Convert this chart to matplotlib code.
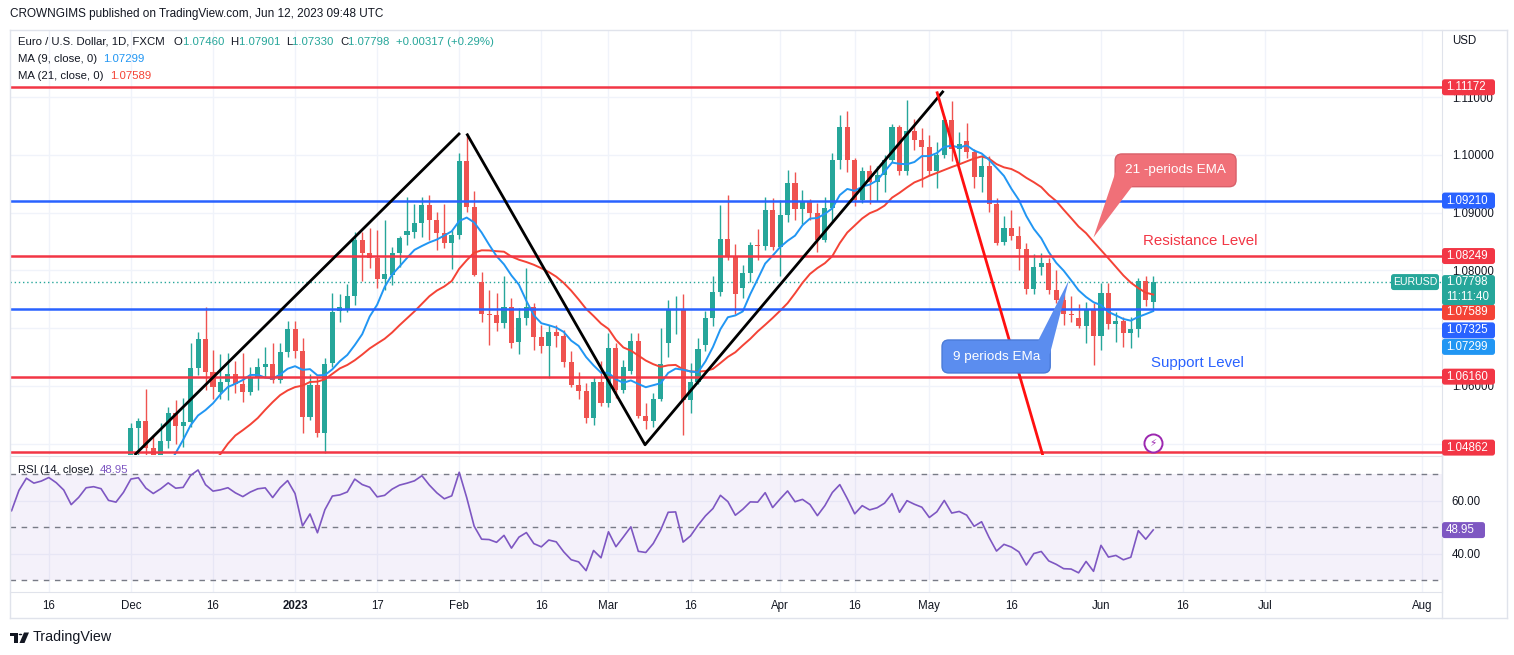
import numpy as np
import pandas as pd
import matplotlib
matplotlib.use("Agg")
import matplotlib.pyplot as plt
from matplotlib.patches import FancyBboxPatch, Polygon, Rectangle, Circle
from matplotlib.lines import Line2D

plt.rcParams['font.family'] = ['Liberation Sans', 'DejaVu Sans']

# closes Oct 3 - Nov 30 2022 (below the visible range, they only feed the MAs / RSI)
early_close = [0.9825, 0.9987, 0.9885, 0.9792, 0.9742, 0.9703, 0.9706, 0.9702, 0.9780, 0.9721,
               0.9839, 0.9855, 0.9774, 0.9780, 0.9862, 0.9877, 0.9965, 1.0078, 0.9965, 0.9965,
               0.9882, 0.9875, 0.9818, 0.9750, 0.9960, 1.0020, 1.0074, 1.0013, 1.0207, 1.0355,
               1.0325, 1.0350, 1.0392, 1.0364, 1.0325, 1.0242, 1.0305, 1.0397, 1.0408, 1.0398,
               1.0339, 1.0330, 1.0405]

# daily EURUSD, Dec 1 2022 - Jun 12 2023 (one row per month)
opens = [
    1.0405, 1.0527, 1.0540, 1.0493, 1.0468, 1.0505, 1.0553, 1.0531, 1.0537, 1.0631, 1.0681,
    1.0624, 1.0590, 1.0607, 1.0621, 1.0603, 1.0590, 1.0614, 1.0633, 1.0638, 1.0610, 1.0659,
    1.0698, 1.0661, 1.0546, 1.0601, 1.0518, 1.0640, 1.0729, 1.0734, 1.0756, 1.0852, 1.0831,
    1.0821, 1.0785, 1.0792, 1.0831, 1.0862, 1.0867, 1.0882, 1.0913, 1.0888, 1.0865, 1.0848,
    1.0861, 1.0990, 1.0910, 1.0780, 1.0725, 1.0723, 1.0709, 1.0737, 1.0676, 1.0718, 1.0737,
    1.0685, 1.0669, 1.0694, 1.0686, 1.0641, 1.0602, 1.0591, 1.0545, 1.0607,
    1.0571, 1.0666, 1.0593, 1.0626, 1.0677, 1.0547, 1.0540, 1.0577, 1.0675, 1.0731, 1.0733,
    1.0575, 1.0607, 1.0670, 1.0718, 1.0763, 1.0854, 1.0825, 1.0770, 1.0796, 1.0844, 1.0843, 1.0905,
    1.0841, 1.0896, 1.0952, 1.0906, 1.0921, 1.0900, 1.0853, 1.0908, 1.0991, 1.1048, 1.0991,
    1.0922, 1.0972, 1.0953, 1.0965, 1.0991, 1.1048, 1.0972, 1.1041, 1.1026,
    1.1014, 1.0972, 1.1000, 1.1061, 1.1011, 1.1025, 1.1005, 1.0961, 1.0980, 1.0915, 1.0850,
    1.0873, 1.0860, 1.0837, 1.0768, 1.0806, 1.0813, 1.0766, 1.0748, 1.0725, 1.0718, 1.0704, 1.0733,
    1.0686, 1.0761, 1.0707, 1.0712, 1.0692, 1.0699, 1.0781, 1.07460]
highs = [
    1.0535, 1.0545, 1.0594, 1.0515, 1.0535, 1.0563, 1.0575, 1.0579, 1.0674, 1.0694, 1.0737,
    1.0662, 1.0655, 1.0657, 1.0643, 1.0657, 1.0633, 1.0648, 1.0667, 1.0674, 1.0674, 1.0712,
    1.0712, 1.0683, 1.0620, 1.0615, 1.0648, 1.0761, 1.0759, 1.0776, 1.0867, 1.0866, 1.0874,
    1.0870, 1.0887, 1.0841, 1.0860, 1.0927, 1.0915, 1.0927, 1.0931, 1.0901, 1.0915, 1.0870,
    1.1003, 1.1033, 1.0938, 1.0798, 1.0766, 1.0761, 1.0790, 1.0752, 1.0735, 1.0804, 1.0744,
    1.0705, 1.0705, 1.0705, 1.0697, 1.0660, 1.0624, 1.0605, 1.0616, 1.0643,
    1.0692, 1.0675, 1.0645, 1.0692, 1.0692, 1.0570, 1.0588, 1.0701, 1.0749, 1.0755, 1.0759,
    1.0640, 1.0683, 1.0730, 1.0790, 1.0913, 1.0931, 1.0845, 1.0809, 1.0850, 1.0872, 1.0928, 1.0926,
    1.0922, 1.0974, 1.0971, 1.0940, 1.0924, 1.0917, 1.0928, 1.1003, 1.1070, 1.1076, 1.0995,
    1.0979, 1.0982, 1.0980, 1.1000, 1.1054, 1.1052, 1.1095, 1.1062, 1.1047,
    1.1034, 1.1022, 1.1068, 1.1094, 1.1040, 1.1055, 1.1010, 1.1000, 1.0998, 1.0925, 1.0895,
    1.0904, 1.0877, 1.0847, 1.0829, 1.0831, 1.0822, 1.0800, 1.0760, 1.0756, 1.0742, 1.0746, 1.0743,
    1.0779, 1.0779, 1.0728, 1.0719, 1.0719, 1.0787, 1.0790, 1.07901]
lows = [
    1.0395, 1.0465, 1.0478, 1.0443, 1.0444, 1.0493, 1.0500, 1.0495, 1.0528, 1.0619, 1.0593,
    1.0578, 1.0578, 1.0576, 1.0588, 1.0572, 1.0585, 1.0593, 1.0615, 1.0605, 1.0605, 1.0650,
    1.0648, 1.0519, 1.0541, 1.0511, 1.0483, 1.0633, 1.0711, 1.0728, 1.0740, 1.0781, 1.0804,
    1.0770, 1.0766, 1.0775, 1.0806, 1.0844, 1.0856, 1.0858, 1.0853, 1.0836, 1.0838, 1.0802,
    1.0855, 1.0902, 1.0790, 1.0711, 1.0671, 1.0695, 1.0700, 1.0666, 1.0656, 1.0706, 1.0662,
    1.0657, 1.0614, 1.0667, 1.0632, 1.0598, 1.0577, 1.0536, 1.0532, 1.0565,
    1.0564, 1.0579, 1.0588, 1.0620, 1.0545, 1.0525, 1.0528, 1.0573, 1.0650, 1.0690, 1.0515,
    1.0553, 1.0603, 1.0660, 1.0703, 1.0755, 1.0818, 1.0725, 1.0752, 1.0780, 1.0818, 1.0835, 1.0836,
    1.0790, 1.0883, 1.0887, 1.0880, 1.0887, 1.0832, 1.0850, 1.0885, 1.0976, 1.0970, 1.0912,
    1.0917, 1.0915, 1.0920, 1.0936, 1.0988, 1.0965, 1.0965, 1.1009, 1.0945,
    1.0965, 1.0943, 1.0995, 1.0990, 1.0985, 1.0995, 1.0943, 1.0935, 1.0902, 1.0844, 1.0844,
    1.0852, 1.0800, 1.0760, 1.0760, 1.0792, 1.0759, 1.0744, 1.0705, 1.0710, 1.0700, 1.0674, 1.0636,
    1.0663, 1.0698, 1.0676, 1.0667, 1.0666, 1.0685, 1.0738, 1.07330]
closes = [
    1.0527, 1.0540, 1.0493, 1.0468, 1.0505, 1.0553, 1.0531, 1.0537, 1.0631, 1.0681, 1.0624,
    1.0598, 1.0607, 1.0621, 1.0603, 1.0590, 1.0615, 1.0633, 1.0638, 1.0610, 1.0659, 1.0698,
    1.0661, 1.0546, 1.0601, 1.0518, 1.0638, 1.0728, 1.0736, 1.0756, 1.0852, 1.0831, 1.0821,
    1.0785, 1.0794, 1.0831, 1.0856, 1.0868, 1.0882, 1.0913, 1.0887, 1.0865, 1.0848, 1.0861,
    1.0990, 1.0910, 1.0792, 1.0725, 1.0723, 1.0709, 1.0737, 1.0674, 1.0718, 1.0737, 1.0685,
    1.0669, 1.0694, 1.0686, 1.0641, 1.0602, 1.0591, 1.0545, 1.0607, 1.0571,
    1.0666, 1.0593, 1.0633, 1.0677, 1.0547, 1.0540, 1.0577, 1.0638, 1.0731, 1.0733, 1.0575,
    1.0607, 1.0664, 1.0718, 1.0763, 1.0854, 1.0825, 1.0759, 1.0796, 1.0844, 1.0843, 1.0905, 1.0841,
    1.0896, 1.0952, 1.0906, 1.0921, 1.0900, 1.0853, 1.0908, 1.0991, 1.1048, 1.0991, 1.0922,
    1.0972, 1.0953, 1.0965, 1.0991, 1.1048, 1.0972, 1.1041, 1.1026, 1.1014,
    1.0972, 1.1000, 1.1061, 1.1011, 1.1019, 1.1005, 1.0961, 1.0980, 1.0915, 1.0848, 1.0873,
    1.0860, 1.0837, 1.0768, 1.0806, 1.0813, 1.0766, 1.0748, 1.0725, 1.0723, 1.0704, 1.0733, 1.0686,
    1.0761, 1.0707, 1.0712, 1.0692, 1.0699, 1.0781, 1.0748, 1.07798]

# horizontal levels drawn on the chart
red_levels = [1.11172, 1.08249, 1.06160, 1.04862]
blue_levels = [1.09210, 1.07325]
ma9_last, ma21_last, rsi_last = 1.07299, 1.07589, 48.95
change, change_pct = 0.00317, 0.29
price_ticks = [1.06, 1.08, 1.09, 1.10, 1.11]

tick_dates = ['2022-11-16', '2022-12-01', '2022-12-16', '2023-01-02', '2023-01-17', '2023-02-01',
              '2023-02-16', '2023-03-01', '2023-03-16', '2023-04-03', '2023-04-17', '2023-05-01',
              '2023-05-16', '2023-06-01', '2023-06-16', '2023-07-03', '2023-08-01']
tick_labels = ['16', 'Dec', '16', '2023', '17', 'Feb', '16', 'Mar', '16', 'Apr', '16', 'May',
               '16', 'Jun', '16', 'Jul', 'Aug']

# drawings (bar offset from Dec 1, price)
zig1 = [(0.5, 1.04803), (44.1, 1.1038)]
zig2 = [(45.0, 1.1037), (68.9, 1.0498), (108.9, 1.1111)]
red_trend = [(108.0, 1.1110), (122.2, 1.0480)]

GREEN, RED = '#26a69a', '#ef5350'
TEXT = '#131722'
GRID = '#f0f3fa'
BORDER = '#e0e3eb'
LRED, LBLUE = '#f23645', '#2962ff'

W, H = 1514, 655
fig = plt.figure(figsize=(W / 100, H / 100), dpi=100)
fig.patch.set_facecolor('white')


def fx(px):
    return px / W


def fy(py):
    return 1 - py / H


PTOP, PBOT = 1.12164, 1.04803
RTOP, RBOT = 76.9, 25.6
ax = fig.add_axes([fx(10), fy(455), fx(1442) - fx(10), fy(30) - fy(455)])
axr = fig.add_axes([fx(10), fy(592), fx(1442) - fx(10), fy(456) - fy(592)])

dates = pd.bdate_range('2022-10-03', '2023-08-31')
n_early = len(early_close)
all_close = np.array(early_close + closes)
xs_all = np.arange(len(all_close)) - n_early
xs = np.arange(len(closes))

# moving averages and RSI from the closes
s = pd.Series(all_close)
ma9 = s.rolling(9).mean().values
ma21 = s.rolling(21).mean().values


def rma(v, n):
    out = np.full(len(v), np.nan)
    out[n - 1] = v[:n].mean()
    for i in range(n, len(v)):
        out[i] = (out[i - 1] * (n - 1) + v[i]) / n
    return out


delta = np.diff(all_close)
ag = rma(np.clip(delta, 0, None), 14)
al = rma(np.clip(-delta, 0, None), 14)
rsi = np.concatenate([[np.nan], 100 - 100 / (1 + ag / al)])

tick_pos = [dates.searchsorted(pd.Timestamp(d)) - n_early for d in tick_dates]

# ---- price pane
for a in (ax, axr):
    a.set_xlim(-16.2, 175.7)
    for p in tick_pos:
        a.axvline(p, color=GRID, lw=1, zorder=0)
ax.set_ylim(PBOT, PTOP)
for v in np.arange(1.05, 1.115, 0.01):
    ax.axhline(v, color=GRID, lw=1, zorder=0)

o, h, l, c = map(np.array, (opens, highs, lows, closes))
col = np.where(c >= o, GREEN, RED)
ax.vlines(xs, l, h, colors=col, lw=1, zorder=3)
ax.bar(xs, np.maximum(np.abs(c - o), 0.00007), bottom=np.minimum(o, c), width=0.68,
       color=col, zorder=3)

ax.plot(xs_all, ma21, color='#f44336', lw=1.4, zorder=4)
ax.plot(xs_all, ma9, color='#2196f3', lw=1.4, zorder=4)

for v in red_levels:
    ax.axhline(v, color=LRED, lw=1.8, zorder=5)
for v in blue_levels:
    ax.axhline(v, color=LBLUE, lw=1.8, zorder=5)
ax.axhline(closes[-1], color=GREEN, lw=1, ls=(0, (1, 2)), zorder=2)

for seg, colr in ((zig1, 'black'), (zig2, 'black'), (red_trend, '#ff1010')):
    ax.plot([p[0] for p in seg], [p[1] for p in seg], color=colr, lw=2, zorder=6,
            solid_capstyle='butt')

# callouts
aspect = (PTOP - PBOT) / 425 / ((175.7 + 16.2) / 1432)
red_box = FancyBboxPatch((131.9, 1.0945), 16.2, 0.00567,
                         boxstyle='round,pad=0,rounding_size=0.9', mutation_aspect=aspect,
                         fc='#f07078', ec='#d9606a', lw=1, zorder=7)
ax.add_patch(red_box)
ax.add_patch(Polygon([(131.95, 1.0970), (134.2, 1.0946), (129.0, 1.0857)], closed=True,
                     fc='#f07078', ec='none', zorder=7))
ax.text(140.0, 1.09734, '21 -periods EMA', color='white', fontsize=9.7, ha='center',
        va='center', zorder=8)

blue_box = FancyBboxPatch((108.7, 1.06224), 14.5, 0.00571,
                          boxstyle='round,pad=0,rounding_size=0.9', mutation_aspect=aspect,
                          fc='#5b8def', ec='#4a7bd8', lw=1, zorder=7)
ax.add_patch(blue_box)
ax.add_patch(Polygon([(121.6, 1.06790), (123.15, 1.0655), (125.7, 1.0783)], closed=True,
                     fc='#5b8def', ec='none', zorder=7))
ax.text(115.95, 1.06505, '9 periods EMa', color='white', fontsize=9.7, ha='center',
        va='center', zorder=8)

ax.text(143.3, 1.08515, 'Resistance Level', color=LRED, fontsize=10.8, ha='center',
        va='center', zorder=8)
ax.text(142.9, 1.06402, 'Support Level', color=LBLUE, fontsize=10.8, ha='center',
        va='center', zorder=8)
ax.plot(137, 1.0501, marker='o', ms=13, mfc='white', mec='#9c27b0', mew=1.4, zorder=8)
ax.text(137, 1.0501, '\u26a1', color='#9c27b0', fontsize=7.5, ha='center', va='center',
        family=['DejaVu Sans'], zorder=9)

ax.yaxis.tick_right()
ax.set_yticks(price_ticks)
ax.yaxis.set_major_formatter(matplotlib.ticker.FormatStrFormatter('%.5f'))
ax.tick_params(axis='y', length=0, pad=7, labelsize=8.3, labelcolor=TEXT)
ax.tick_params(axis='x', length=0, labelbottom=False)
for sp in ('top', 'left', 'bottom'):
    ax.spines[sp].set_visible(False)
ax.spines['right'].set_color(BORDER)

# ---- RSI pane
axr.set_ylim(RBOT, RTOP)
for v in (40, 60):
    axr.axhline(v, color=GRID, lw=1, zorder=0)
axr.axhspan(30, 70, color='#7e57c2', alpha=0.08, lw=0, zorder=0)
for v in (70, 50, 30):
    axr.axhline(v, color='#787b86', lw=1, ls=(0, (4, 4)), zorder=1)
axr.plot(xs_all, rsi, color='#7e57c2', lw=1.2, zorder=3)
axr.yaxis.tick_right()
axr.set_yticks([40, 60])
axr.set_yticklabels(['40.00', '60.00'])
axr.tick_params(axis='y', length=0, pad=7, labelsize=8.3, labelcolor=TEXT)
axr.set_xticks(tick_pos)
axr.set_xticklabels(tick_labels)
axr.tick_params(axis='x', length=0, pad=6, labelsize=8.3, labelcolor=TEXT)
for t in axr.get_xticklabels():
    if t.get_text() == '2023':
        t.set_fontweight('bold')
axr.spines['left'].set_visible(False)
for sp in ('top', 'right', 'bottom'):
    axr.spines[sp].set_color(BORDER)

# ---- frame lines
for (x0, y0, x1, y1) in ((10, 618, 1507, 618), (10, 30, 10, 618), (1442, 455, 1442, 618),
                         (10, 30, 1507, 30), (1507, 30, 1507, 618)):
    fig.add_artist(Line2D([fx(x0), fx(x1)], [fy(y0), fy(y1)], color=BORDER, lw=1))


# ---- price tags on the right axis
def py_price(v):
    return 30 + (PTOP - v) / (PTOP - PBOT) * 425


def tag(py, text, colr, height=16, width=53):
    fig.add_artist(FancyBboxPatch((fx(1442), fy(py + height / 2)), fx(width), height / H,
                                  boxstyle='round,pad=0,rounding_size=0.0018',
                                  mutation_aspect=W / H, fc=colr, ec='none', zorder=4))
    fig.text(fx(1446), fy(py), text, color='white', fontsize=8.3, va='center', ha='left',
             zorder=5)


tag_values = [red_levels[0], blue_levels[0], red_levels[1], ma21_last, blue_levels[1],
              ma9_last, red_levels[2], red_levels[3]]
tag_colors = [LRED, LBLUE, LRED, '#f44336', LBLUE, '#2196f3', LRED, LRED]
tag_shift = [0, 0, 0, 18, 21, 36, 0, -4]
for v, colr, sh in zip(tag_values, tag_colors, tag_shift):
    tag(py_price(v) + sh, '%.5f' % v, colr)

pc = py_price(closes[-1])
fig.add_artist(FancyBboxPatch((fx(1442), fy(pc + 23)), fx(53), 30 / H,
                              boxstyle='round,pad=0,rounding_size=0.0018',
                              mutation_aspect=W / H, fc=GREEN, ec='none', zorder=4))
fig.text(fx(1446), fy(pc), '%.5f' % closes[-1], color='white', fontsize=8.3, va='center',
         zorder=5)
fig.text(fx(1446), fy(pc + 14.5), '11:11:40', color='white', fontsize=8.3, va='center',
         zorder=5)
fig.add_artist(FancyBboxPatch((fx(1391), fy(pc + 8)), fx(48), 16 / H,
                              boxstyle='round,pad=0,rounding_size=0.0018',
                              mutation_aspect=W / H, fc=GREEN, ec='none', zorder=4))
fig.text(fx(1415), fy(pc), 'EURUSD', color='white', fontsize=7.6, va='center', ha='center',
         zorder=5)

prsi = 456 + (RTOP - rsi_last) / (RTOP - RBOT) * 136
fig.add_artist(FancyBboxPatch((fx(1442), fy(prsi + 8)), fx(43), 16 / H,
                              boxstyle='round,pad=0,rounding_size=0.0018',
                              mutation_aspect=W / H, fc='#7e57c2', ec='none', zorder=4))
fig.text(fx(1446), fy(prsi), '%.2f' % rsi_last, color='white', fontsize=8.3, va='center',
         zorder=5)
fig.text(fx(1452), fy(41), 'USD', color=TEXT, fontsize=8.3, va='center')

# ---- header and legends
renderer = fig.canvas.get_renderer()


def rich(px, py, parts, size=8.2):
    x = px
    for txt, colr in parts:
        t = fig.text(fx(x), fy(py), txt, color=colr, fontsize=size, va='center', ha='left')
        x += t.get_window_extent(renderer).width


fig.text(fx(10), fy(14), 'CROWNGIMS published on TradingView.com, Jun 12, 2023 09:48 UTC',
         color=TEXT, fontsize=8.5, va='center')
rich(18, 42, [('Euro / U.S. Dollar, 1D, FXCM   ', TEXT),
              ('O', TEXT), ('%.5f  ' % opens[-1], GREEN),
              ('H', TEXT), ('%.5f  ' % highs[-1], GREEN),
              ('L', TEXT), ('%.5f  ' % lows[-1], GREEN),
              ('C', TEXT), ('%.5f  ' % closes[-1], GREEN),
              ('+%.5f (+%.2f%%)' % (change, change_pct), GREEN)])
rich(18, 59, [('MA (9, close, 0)  ', TEXT), ('%.5f' % ma9_last, '#2196f3')])
rich(18, 76, [('MA (21, close, 0)  ', TEXT), ('%.5f' % ma21_last, '#f44336')])
rich(18, 470, [('RSI (14, close)  ', TEXT), ('%.2f' % rsi_last, '#7e57c2')])

# ---- footer logo
fig.add_artist(Rectangle((fx(10), fy(636)), fx(8), 3.5 / H, fc=TEXT, ec='none'))
fig.add_artist(Rectangle((fx(14), fy(643)), fx(3.5), 10.5 / H, fc=TEXT, ec='none'))
fig.add_artist(Circle((fx(20.5), fy(634.5)), 1.8 / W, fc=TEXT, ec='none'))
fig.add_artist(Polygon([(fx(24), fy(632.5)), (fx(29), fy(632.5)), (fx(24.5), fy(643)),
                        (fx(19.5), fy(643))], closed=True, fc=TEXT, ec='none'))
fig.text(fx(33), fy(637.5), 'TradingView', color=TEXT, fontsize=10.3, va='center')

fig.savefig('out.png', dpi=100)
